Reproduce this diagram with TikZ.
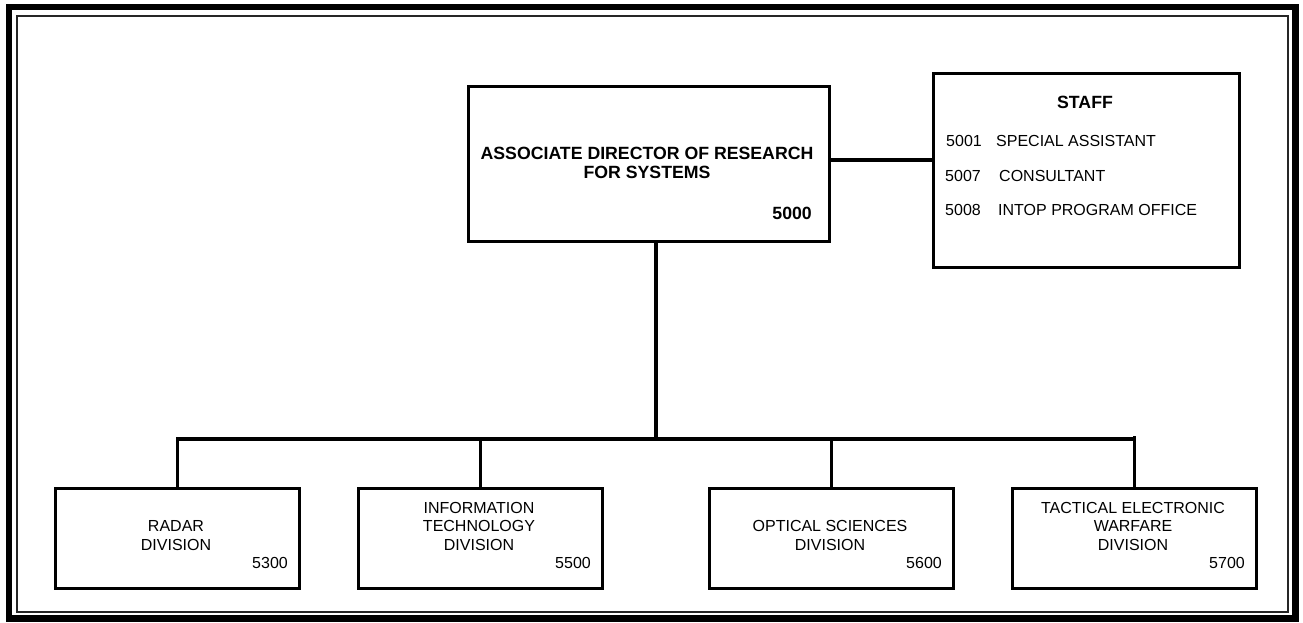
\documentclass[tikz,border=0pt]{standalone}
\usepackage{fontspec}
\setmainfont{Liberation Sans}
\begin{document}
\begin{tikzpicture}[x=1pt,y=-1pt,
  box/.style={draw, line width=3.3pt, inner sep=0pt, anchor=north west},
  divbox/.style={box, minimum width=244pt, minimum height=100pt},
  conn/.style={line width=3.3pt, line join=miter},
  divtext/.style={align=center, inner sep=0pt, anchor=south, font=\fontsize{16}{18.5}\selectfont},
  divnum/.style={inner sep=0pt, anchor=base east, font=\fontsize{16}{18}\selectfont},
  mtext/.style={align=center, inner sep=0pt, anchor=south, font=\fontsize{17.7}{19}\selectfont\bfseries},
  stext/.style={inner sep=0pt, anchor=base west, font=\fontsize{16}{18}\selectfont}]
\useasboundingbox (0,0) rectangle (1303,622);
% frames
\draw[line width=6.5pt] (9,7) rectangle (1295.5,618.5);
\draw[line width=2pt, black!85] (17,16) rectangle (1288,612);
% main box
\node[box, minimum width=361pt, minimum height=155pt] (main) at (467,85) {};
\node[mtext] (maintxt) at (647,179) {ASSOCIATE DIRECTOR OF RESEARCH\\FOR SYSTEMS};
\node[inner sep=0pt, anchor=base east, font=\fontsize{17.7}{19}\selectfont\bfseries] (mainnum) at (812,219) {5000};
% staff box
\node[box, minimum width=306pt, minimum height=194pt] (staff) at (932,72) {};
\node[inner sep=0pt, anchor=base, font=\fontsize{17.7}{19}\selectfont\bfseries] (stafft) at (1085,108) {STAFF};
\node[stext] (s1n) at (946,146.5) {5001};
\node[stext] (s1t) at (996,146.5) {SPECIAL ASSISTANT};
\node[stext] (s2n) at (945,181.5) {5007};
\node[stext] (s2t) at (999,181.5) {CONSULTANT};
\node[stext] (s3n) at (945,215.5) {5008};
\node[stext] (s3t) at (998,215.5) {INTOP PROGRAM OFFICE};
% division boxes
\node[divbox] (radar) at (54,487) {};
\node[divbox] (info) at (357,487) {};
\node[divbox] (optic) at (708,487) {};
\node[divbox] (tact) at (1011,487) {};
\node[divtext] (radart) at (176,550.5) {RADAR\\DIVISION};
\node[divtext] (infot) at (479,550.5) {INFORMATION\\TECHNOLOGY\\DIVISION};
\node[divtext] (optict) at (830,550.5) {OPTICAL SCIENCES\\DIVISION};
\node[divtext] (tactt) at (1133,550.5) {TACTICAL ELECTRONIC\\WARFARE\\DIVISION};
\node[divnum] (radarn) at (288,568.5) {5300};
\node[divnum] (infon) at (591,568.5) {5500};
\node[divnum] (opticn) at (942,568.5) {5600};
\node[divnum] (tactn) at (1245,568.5) {5700};
% connectors
\coordinate (bus) at (656,439);
\draw[conn] (main.east |- 0,160) -- (staff.west |- 0,160);
\draw[conn] (main.south -| bus) -- (bus);
\draw[conn] (radar.north) |- (bus) -| (tact.north);
\draw[conn] (info.north) -- (info.north |- bus);
\draw[conn] (optic.north) -- (optic.north |- bus);
\draw[conn] (tact.north) -- ([yshift=3pt]tact.north |- bus);
\end{tikzpicture}
\end{document}
